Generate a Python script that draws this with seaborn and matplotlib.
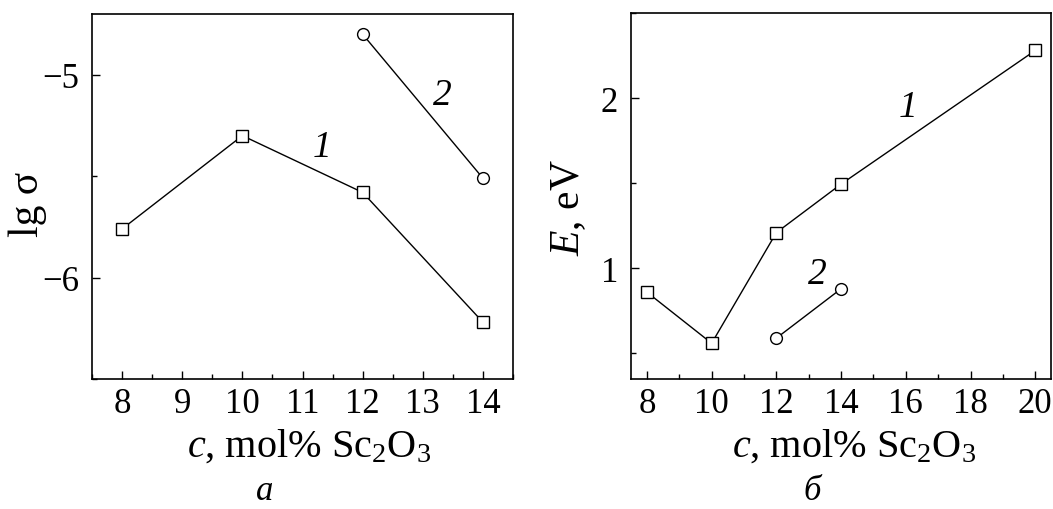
import seaborn as sns
import matplotlib.pyplot as plt
from matplotlib.ticker import MultipleLocator

# Panel a: lg sigma vs Sc2O3 content
c_a1 = [8, 10, 12, 14]
lg_sigma_1 = [-5.76, -5.30, -5.58, -6.22]
c_a2 = [12, 14]
lg_sigma_2 = [-4.80, -5.51]

# Panel b: activation energy vs Sc2O3 content
c_b1 = [8, 10, 12, 14, 20]
energy_1 = [0.86, 0.56, 1.21, 1.495, 2.28]
c_b2 = [12, 14]
energy_2 = [0.59, 0.88]

sns.set_style("ticks")
plt.rcParams['font.family'] = ['Liberation Serif', 'DejaVu Serif']
plt.rcParams['mathtext.fontset'] = 'custom'
plt.rcParams['mathtext.rm'] = 'Liberation Serif'
plt.rcParams['mathtext.it'] = 'Liberation Serif:italic'
plt.rcParams['text.color'] = 'black'
plt.rcParams['axes.labelcolor'] = 'black'
plt.rcParams['xtick.color'] = 'black'
plt.rcParams['ytick.color'] = 'black'

fig = plt.figure(figsize=(10.53, 5.10), dpi=100)
ax1 = fig.add_axes([0.0874, 0.2549, 0.3998, 0.7157])
ax2 = fig.add_axes([0.599, 0.2549, 0.3995, 0.7176])

line_kw = dict(color='black', linewidth=1, markerfacecolor='white',
               markeredgecolor='black', markeredgewidth=1)

sns.lineplot(x=c_a1, y=lg_sigma_1, ax=ax1, marker='s', markersize=9, **line_kw)
sns.lineplot(x=c_a2, y=lg_sigma_2, ax=ax1, marker='o', markersize=8.5, **line_kw)
sns.lineplot(x=c_b1, y=energy_1, ax=ax2, marker='s', markersize=9, **line_kw)
sns.lineplot(x=c_b2, y=energy_2, ax=ax2, marker='o', markersize=8.5, **line_kw)

ax1.set_xlim(7.5, 14.5)
ax1.set_ylim(-6.5, -4.7)
ax1.xaxis.set_major_locator(MultipleLocator(1))
ax1.xaxis.set_minor_locator(MultipleLocator(0.5))
ax1.yaxis.set_major_locator(MultipleLocator(1))
ax1.yaxis.set_minor_locator(MultipleLocator(0.5))

ax2.set_xlim(7.5, 20.5)
ax2.set_ylim(0.35, 2.5)
ax2.xaxis.set_major_locator(MultipleLocator(2))
ax2.xaxis.set_minor_locator(MultipleLocator(1))
ax2.yaxis.set_major_locator(MultipleLocator(1))
ax2.yaxis.set_minor_locator(MultipleLocator(0.5))

xlabel = '$c$, mol% Sc$_2$O$_3$'
for ax in (ax1, ax2):
    for s in ax.spines.values():
        s.set_linewidth(1.2)
        s.set_color('black')
    ax.tick_params(which='major', direction='in', length=6, width=1,
                   labelsize=25, pad=6, colors='black')
    ax.tick_params(which='minor', direction='in', length=3.5, width=1)
    ax.tick_params(axis='y', pad=9)
    ax.set_xlabel(xlabel, fontsize=29)

# label positions (axes fraction)
ax1.xaxis.set_label_coords((309 - 92) / 421, -0.13)
ax2.xaxis.set_label_coords((854 - 630.7) / 421, -0.13)

ax1.set_ylabel('lg σ', fontsize=30)
ax2.set_ylabel('$E$, eV', fontsize=30)
ax1.yaxis.set_label_coords(-0.107, 0.48)
ax2.yaxis.set_label_coords(-0.102, 0.47)

# curve numbers
ax1.text(11.33, -5.354, '1', fontsize=27, fontstyle='italic', ha='center', va='center')
ax1.text(13.33, -5.10, '2', fontsize=27, fontstyle='italic', ha='center', va='center')
ax2.text(16.08, 1.95, '1', fontsize=27, fontstyle='italic', ha='center', va='center')
ax2.text(13.28, 0.97, '2', fontsize=27, fontstyle='italic', ha='center', va='center')

# panel letters
fig.text(265 / 1053, 1 - 492 / 510, 'a', fontsize=25, fontstyle='italic', ha='center', va='center')
fig.text(812 / 1053, 1 - 492 / 510, 'б', fontsize=25, fontstyle='italic', ha='center', va='center')

fig.savefig('out.png', dpi=100, facecolor='white')
